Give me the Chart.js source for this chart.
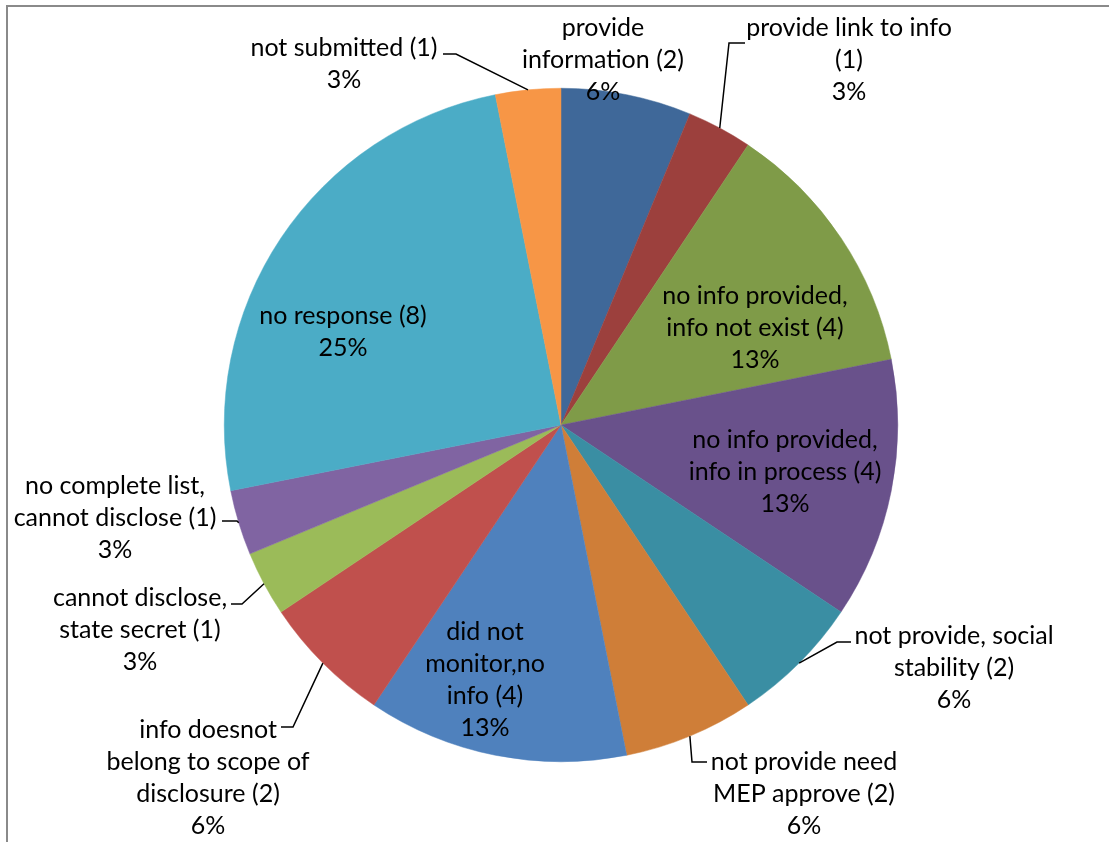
<!DOCTYPE html>
<html>
<head>
<meta charset="utf-8">
<script src="https://cdn.jsdelivr.net/npm/chart.js@4/dist/chart.umd.min.js"></script>
<style>
    html, body { margin: 0; padding: 0; background: #fff; }
    #wrap { width: 1109px; height: 842px; }
</style>
</head>
<body>
<div id="wrap"><canvas id="pie" width="1109" height="842"></canvas></div>
<script>
// Categories and counts, clockwise from 12 o'clock
const categories = [
    'provide information',
    'provide link to info',
    'no info provided, info not exist',
    'no info provided, info in process',
    'not provide, social stability',
    'not provide need MEP approve',
    'did not monitor,no info',
    'info doesnot belong to scope of disclosure',
    'cannot disclose, state secret',
    'no complete list, cannot disclose',
    'no response',
    'not submitted'
];
const counts = [2, 1, 4, 4, 2, 2, 4, 2, 1, 1, 8, 1];

// How each label wraps; {n} is replaced by the count
const labelLines = [
    ['provide', 'information ({n})'],
    ['provide link to info', '({n})'],
    ['no info provided,', 'info not exist ({n})'],
    ['no info provided,', 'info in process ({n})'],
    ['not provide, social', 'stability ({n})'],
    ['not provide need', 'MEP approve ({n})'],
    ['did not', 'monitor,no', 'info ({n})'],
    ['info doesnot', 'belong to scope of', 'disclosure ({n})'],
    ['cannot disclose,', 'state secret ({n})'],
    ['no complete list,', 'cannot disclose ({n})'],
    ['no response ({n})'],
    ['not submitted ({n})']
];

const sliceColors = [
    '#3F6899', '#9C403D', '#7F9B48', '#69518B', '#3A8EA3', '#CF7E38',
    '#4F81BD', '#C0504D', '#9BBB59', '#8064A2', '#4BACC6', '#F79646'
];

// Where the text sits (centre x, first line y) and, for outside labels, the leader knee/tail
const labelPlaces = [
    { x: 603, y: 28 },
    { x: 849, y: 28, knee: [729, 43], tail: [745, 43] },
    { x: 755, y: 296 },
    { x: 785, y: 440 },
    { x: 954, y: 636, knee: [837, 642], tail: [851, 642] },
    { x: 804, y: 762, knee: [692, 762], tail: [707, 762] },
    { x: 485, y: 632 },
    { x: 208, y: 730, knee: [293, 727], tail: [281, 727] },
    { x: 140, y: 598, knee: [242, 604], tail: [231, 604] },
    { x: 115, y: 486, knee: [237, 521], tail: [222, 521] },
    { x: 343, y: 316 },
    { x: 344, y: 48, knee: [456, 54], tail: [443, 54] }
];

const LINE_H = 32;
const FONT = '25px Lato, "Open Sans", sans-serif';

// Grey frame along the left and top edge
const framePlugin = {
    id: 'frame',
    beforeDraw(chart) {
        const ctx = chart.ctx;
        ctx.save();
        ctx.strokeStyle = '#8a8a8a';
        ctx.lineWidth = 2;
        ctx.beginPath();
        ctx.moveTo(7, 842);
        ctx.lineTo(7, 6);
        ctx.lineTo(1109, 6);
        ctx.stroke();
        ctx.restore();
    }
};

// Data labels with leader lines
const labelPlugin = {
    id: 'sliceLabels',
    afterDatasetsDraw(chart) {
        const ctx = chart.ctx;
        const meta = chart.getDatasetMeta(0);
        const total = counts.reduce((a, b) => a + b, 0);
        ctx.save();
        ctx.font = FONT;
        ctx.fillStyle = '#000';
        ctx.strokeStyle = '#000';
        ctx.lineWidth = 1.5;
        ctx.textAlign = 'center';
        ctx.textBaseline = 'middle';

        meta.data.forEach((arc, i) => {
            const place = labelPlaces[i];
            const lines = labelLines[i].map(s => s.replace('{n}', counts[i]));
            lines.push(Math.round(counts[i] / total * 100) + '%');

            if (place.knee) {
                const p = arc.getProps(['x', 'y', 'startAngle', 'endAngle', 'outerRadius'], true);
                const mid = (p.startAngle + p.endAngle) / 2;
                const px = p.x + Math.cos(mid) * p.outerRadius;
                const py = p.y + Math.sin(mid) * p.outerRadius;
                ctx.beginPath();
                ctx.moveTo(px, py);
                ctx.lineTo(place.knee[0], place.knee[1]);
                ctx.lineTo(place.tail[0], place.tail[1]);
                ctx.stroke();
            }

            lines.forEach((t, k) => ctx.fillText(t, place.x, place.y + k * LINE_H));
        });
        ctx.restore();
    }
};

new Chart(document.getElementById('pie'), {
    type: 'pie',
    data: {
        labels: categories,
        datasets: [{
            data: counts,
            backgroundColor: sliceColors,
            borderColor: sliceColors,
            borderWidth: 0.5
        }]
    },
    options: {
        responsive: false,
        animation: false,
        layout: {
            padding: { left: 224, right: 211, top: 88, bottom: 80 }
        },
        plugins: {
            legend: { display: false },
            tooltip: { enabled: false }
        }
    },
    plugins: [framePlugin, labelPlugin]
});
</script>
</body>
</html>
